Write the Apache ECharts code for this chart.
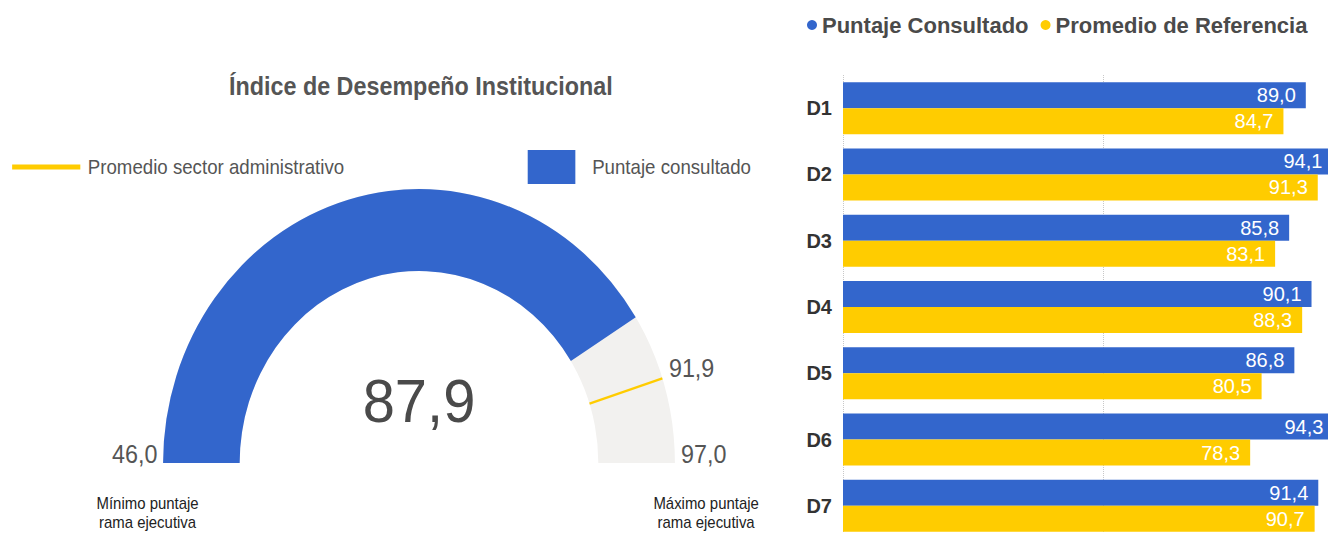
<!DOCTYPE html>
<html>
<head>
<meta charset="utf-8">
<script src="https://cdn.jsdelivr.net/npm/echarts@6/dist/echarts.min.js"></script>
<style>
  html, body { margin:0; padding:0; background:#ffffff; width:1328px; height:533px; overflow:hidden; }
  #left { position:absolute; left:0; top:0; width:835px; height:533px; transform:scaleX(0.934); transform-origin:0 0; }
  #right { position:absolute; left:780px; top:0; width:548px; height:533px; overflow:hidden; }
</style>
</head>
<body>
<div id="left"></div>
<div id="right"></div>
<script>
// ---- data ----
const gaugeTitle = 'Índice de Desempeño Institucional';
const gaugeMin = 46.0;
const gaugeMax = 97.0;
const gaugeValue = 87.9;
const gaugeRef = 91.9;
const gaugeSeriesNames = ['Puntaje consultado', 'Promedio sector administrativo'];
const minCaption = 'Mínimo puntaje\nrama ejecutiva';
const maxCaption = 'Máximo puntaje\nrama ejecutiva';

const categories = ['D1', 'D2', 'D3', 'D4', 'D5', 'D6', 'D7'];
const barSeriesNames = ['Puntaje Consultado', 'Promedio de Referencia'];
const consultado = [89.0, 94.1, 85.8, 90.1, 86.8, 94.3, 91.4];
const referencia = [84.7, 91.3, 83.1, 88.3, 80.5, 78.3, 90.7];
const xTicks = [0, 50, 100];

// ---- helpers / styling ----
const fmt = v => v.toFixed(1).replace('.', ',');
const FONT = "'Liberation Sans', Arial, sans-serif";
const BLUE = '#3366CC', YELLOW = '#FFCC00', TRACK = '#F2F1EF';

// gauge geometry (unscaled coords of the left canvas)
const CX = 448.6, CY = 463, R_OUT = 274, RING = 82;
const refAngle = Math.PI * (1 - (gaugeRef - gaugeMin) / (gaugeMax - gaugeMin));

const left = echarts.init(document.getElementById('left'), null, { renderer: 'svg' });
left.setOption({
  animation: false,
  legend: [
    {
      data: [gaugeSeriesNames[1]], left: 8, top: 152, icon: 'rect',
      itemWidth: 73, itemHeight: 5, selectedMode: false,
      textStyle: { fontFamily: FONT, fontSize: 20, color: '#555', padding: [0, 0, 0, 3] }
    },
    {
      data: [gaugeSeriesNames[0]], left: 560, top: 145, icon: 'rect',
      itemWidth: 51, itemHeight: 34, selectedMode: false,
      textStyle: { fontFamily: FONT, fontSize: 20, color: '#555', padding: [0, 0, 0, 13] }
    }
  ],
  graphic: [
    { type: 'text', x: CX + 2, y: 86, style: { text: gaugeTitle, align: 'center', verticalAlign: 'middle', font: 'bold 25px ' + FONT, fill: '#555' } },
    { type: 'text', x: CX - R_OUT - 6, y: 454.5, style: { text: fmt(gaugeMin), align: 'right', verticalAlign: 'middle', font: '25px ' + FONT, fill: '#555' } },
    { type: 'text', x: CX + R_OUT + 6.5, y: 454.5, style: { text: fmt(gaugeMax), align: 'left', verticalAlign: 'middle', font: '25px ' + FONT, fill: '#555' } },
    { type: 'text', x: CX + R_OUT * Math.cos(refAngle) + 7, y: CY - R_OUT * Math.sin(refAngle) - 10,
      style: { text: fmt(gaugeRef), align: 'left', verticalAlign: 'middle', font: '25px ' + FONT, fill: '#555' } },
    { type: 'text', x: 158, y: 494, style: { text: minCaption, align: 'center', verticalAlign: 'top', font: '16px ' + FONT, lineHeight: 19, fill: '#222' } },
    { type: 'text', x: 756, y: 494, style: { text: maxCaption, align: 'center', verticalAlign: 'top', font: '16px ' + FONT, lineHeight: 19, fill: '#222' } }
  ],
  series: [
    {
      name: gaugeSeriesNames[0],
      type: 'gauge',
      center: [CX, CY], radius: R_OUT,
      startAngle: 180, endAngle: 0,
      min: gaugeMin, max: gaugeMax,
      itemStyle: { color: BLUE },
      progress: { show: true, width: RING, roundCap: false, itemStyle: { color: BLUE } },
      axisLine: { lineStyle: { width: RING, color: [[1, TRACK]] } },
      axisTick: { show: false }, splitLine: { show: false }, axisLabel: { show: false },
      pointer: { show: false }, anchor: { show: false }, title: { show: false },
      detail: {
        show: true, offsetCenter: [0, -62], formatter: v => fmt(v),
        fontFamily: FONT, fontSize: 62, color: '#4a4a4a', fontWeight: 'normal'
      },
      data: [{ value: gaugeValue, name: gaugeSeriesNames[0] }]
    },
    {
      name: gaugeSeriesNames[1],
      type: 'gauge',
      center: [CX, CY], radius: R_OUT,
      startAngle: 180, endAngle: 0,
      min: gaugeMin, max: gaugeMax,
      itemStyle: { color: YELLOW },
      progress: { show: false },
      axisLine: { show: false },
      axisTick: { show: false }, splitLine: { show: false }, axisLabel: { show: false },
      pointer: { show: true, icon: 'rect', length: RING, width: 2.5, offsetCenter: [0, -(R_OUT - RING)], itemStyle: { color: YELLOW } },
      anchor: { show: false }, title: { show: false }, detail: { show: false },
      data: [{ value: gaugeRef, name: gaugeSeriesNames[1] }]
    }
  ]
});

const right = echarts.init(document.getElementById('right'), null, { renderer: 'svg' });
const barLabel = {
  show: true, position: 'insideRight', distance: 10,
  formatter: p => fmt(p.value), color: '#ffffff', fontFamily: FONT, fontSize: 20
};
right.setOption({
  animation: false,
  legend: {
    data: barSeriesNames, left: 22, top: 9, icon: 'circle',
    itemWidth: 10, itemHeight: 10, itemGap: 12, selectedMode: false,
    textStyle: { fontFamily: FONT, fontSize: 22, fontWeight: 'bold', color: '#4a4a4a' }
  },
  grid: { left: 63, top: 75, width: 520, height: 464, containLabel: false, outerBoundsMode: 'none' },
  xAxis: {
    type: 'value', min: xTicks[0], max: xTicks[xTicks.length - 1], interval: xTicks[1] - xTicks[0],
    axisLine: { show: false }, axisTick: { show: false }, axisLabel: { show: false },
    splitLine: { show: true, lineStyle: { type: 'dotted', color: '#c8c8c8', width: 1 } }
  },
  yAxis: {
    type: 'category', data: categories, inverse: true,
    axisLine: { show: false }, axisTick: { show: false },
    axisLabel: { margin: 11, fontFamily: FONT, fontSize: 20, fontWeight: 'bold', color: '#333' }
  },
  series: [
    { name: barSeriesNames[0], type: 'bar', data: consultado, barWidth: 26, barGap: '0%', itemStyle: { color: BLUE }, label: barLabel },
    { name: barSeriesNames[1], type: 'bar', data: referencia, barWidth: 26, barGap: '0%', itemStyle: { color: YELLOW }, label: barLabel }
  ]
});
</script>
</body>
</html>
